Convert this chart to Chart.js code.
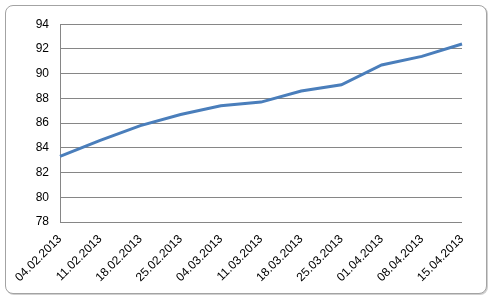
<!DOCTYPE html>
<html>
<head>
<meta charset="utf-8">
<script src="https://cdn.jsdelivr.net/npm/chart.js@4"></script>
<style>
  html, body { margin: 0; padding: 0; background: #fff; }
  body { width: 493px; height: 301px; position: relative; overflow: hidden; }
  #frame {
    position: absolute; left: 5px; top: 5px; width: 480px; height: 287px;
    border: 1px solid #a3a3a3; border-radius: 8px; background: #fff;
    box-shadow: 1px 1px 0 #d0d0d0;
  }
  #chart { position: absolute; left: 0; top: 0; }
</style>
</head>
<body>
<div id="frame"><canvas id="chart" width="480" height="287"></canvas></div>
<script>
const dates = ["04.02.2013", "11.02.2013", "18.02.2013", "25.02.2013", "04.03.2013",
  "11.03.2013", "18.03.2013", "25.03.2013", "01.04.2013", "08.04.2013", "15.04.2013"];
const values = [83.3, 84.6, 85.8, 86.7, 87.4, 87.7, 88.6, 89.1, 90.7, 91.4, 92.4];
const yMin = 78;
const yMax = 94;
const yStep = 2;

const ctx = document.getElementById("chart").getContext("2d");
const chart = new Chart(ctx, {
  type: "line",
  data: {
    labels: dates,
    datasets: [
      {
        data: values,
        borderColor: "#4a7ebb",
        borderWidth: 3,
        pointRadius: 0,
        tension: 0,
        fill: false,
      },
    ],
  },
  options: {
    responsive: false,
    animation: false,
    layout: {
      padding: { left: 0, right: 24, top: 13, bottom: 0 },
    },
    scales: {
      x: {
        offset: false,
        grid: { display: false, drawTicks: false },
        border: { display: false },
        ticks: {
          autoSkip: false,
          minRotation: 45,
          maxRotation: 45,
          padding: 10,
          color: "#000",
          font: { family: "Liberation Sans", size: 12 },
        },
        afterFit: (scale) => { scale.height = 71; },
      },
      y: {
        min: yMin,
        max: yMax,
        grid: { color: "#868686", lineWidth: 1, drawTicks: false },
        border: { display: true, color: "#868686", width: 1 },
        ticks: {
          stepSize: yStep,
          padding: 11,
          color: "#000",
          font: { family: "Liberation Sans", size: 12 },
        },
        afterFit: (scale) => { scale.width = 54; },
      },
    },
    plugins: {
      legend: { display: false },
      tooltip: { enabled: false },
    },
  },
});
</script>
</body>
</html>
